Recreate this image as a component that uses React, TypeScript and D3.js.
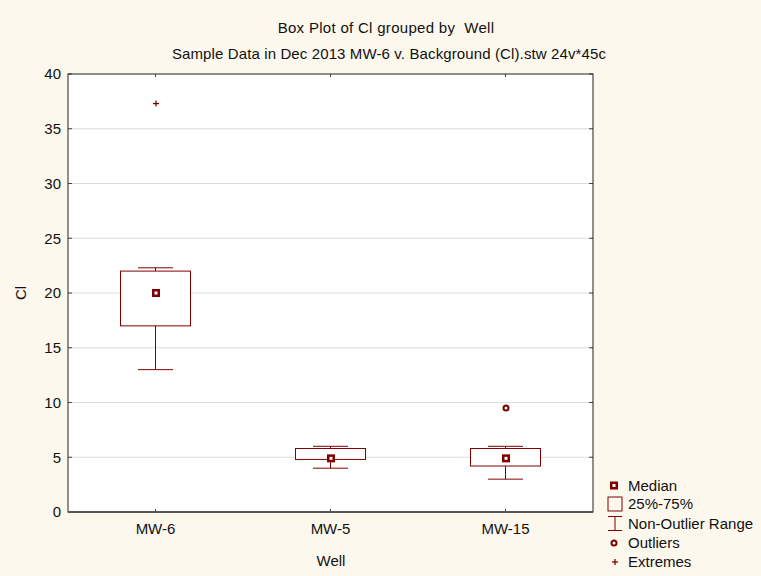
import React from "react";
import * as d3 from "d3";

const wells = ["MW-6", "MW-5", "MW-15"];
const medians = [20.0, 4.9, 4.9];
const q1 = [17.0, 4.8, 4.2];
const q3 = [22.0, 5.8, 5.8];
const whiskerLow = [13.0, 4.0, 3.0];
const whiskerHigh = [22.3, 6.0, 6.0];
const outliers: number[][] = [[], [], [9.5]];
const extremes: number[][] = [[37.3], [], []];
const yTicks = [0, 5, 10, 15, 20, 25, 30, 35, 40];
const legendLabels = ["Median", "25%-75%", "Non-Outlier Range", "Outliers", "Extremes"];

const W = 761;
const H = 576;
const plot = { left: 68, right: 593, top: 74, bottom: 512 };
const RED = "#800000";
const FONT = "'Liberation Sans', Arial, sans-serif";

export default function App() {
  const x = d3.scaleBand<string>().domain(wells).range([plot.left, plot.right]);
  const y = d3.scaleLinear().domain([0, 40]).range([plot.bottom, plot.top]);
  const bw = x.bandwidth();
  const boxW = bw * 0.4;
  const capW = bw * 0.2;
  const cx = (w: string) => (x(w) as number) + bw / 2;

  const MedianMark = ({ px, py }: { px: number; py: number }) => (
    <rect x={px - 2.75} y={py - 2.75} width={5.5} height={5.5} fill="#fff" stroke={RED} strokeWidth={2.5} />
  );
  const OutlierMark = ({ px, py }: { px: number; py: number }) => (
    <circle cx={px} cy={py} r={2.5} fill="#fff" stroke={RED} strokeWidth={2} />
  );
  const ExtremeMark = ({ px, py }: { px: number; py: number }) => (
    <g stroke={RED} strokeWidth={1.3}>
      <line x1={px - 3} x2={px + 3} y1={py} y2={py} />
      <line x1={px} x2={px} y1={py - 3} y2={py + 3} />
    </g>
  );

  const legendY = [485.5, 504, 523.5, 543, 562];
  const lx = 615;

  return (
    <svg width={W} height={H} style={{ position: "absolute", left: 0, top: 0 }} fontFamily={FONT}>
      <rect x={0} y={0} width={W} height={H} fill="#FDF8ED" />
      <text x={386} y={32.5} textAnchor="middle" fontSize={15} fill="#111" style={{ whiteSpace: "pre" }} letterSpacing={0.3}>
        {"Box Plot of Cl grouped by  Well"}
      </text>
      <text x={389} y={59} textAnchor="middle" fontSize={15} fill="#111" letterSpacing={0.12}>
        Sample Data in Dec 2013 MW-6 v. Background (Cl).stw 24v*45c
      </text>

      <rect x={plot.left} y={plot.top} width={plot.right - plot.left} height={plot.bottom - plot.top} fill="#fff" />
      {yTicks.slice(1, -1).map((t) => (
        <line key={"g" + t} x1={plot.left} x2={plot.right} y1={y(t)} y2={y(t)} stroke="#dcdcdc" strokeWidth={1} />
      ))}

      {/* ticks */}
      {yTicks.map((t) => (
        <g key={"t" + t} stroke="#444" strokeWidth={1}>
          <line x1={plot.left} x2={plot.left + 4} y1={y(t)} y2={y(t)} />
          <line x1={plot.right - 4} x2={plot.right} y1={y(t)} y2={y(t)} />
        </g>
      ))}
      {wells.map((w) => (
        <g key={"xt" + w} stroke="#444" strokeWidth={1}>
          <line x1={cx(w)} x2={cx(w)} y1={plot.top} y2={plot.top + 3} />
          <line x1={cx(w)} x2={cx(w)} y1={plot.bottom - 3} y2={plot.bottom} />
        </g>
      ))}

      {/* boxes */}
      {wells.map((w, i) => {
        const c = cx(w);
        return (
          <g key={"b" + w} stroke={RED} strokeWidth={1} fill="none">
            <line x1={c} x2={c} y1={y(whiskerHigh[i])} y2={y(q3[i])} />
            <line x1={c} x2={c} y1={y(q1[i])} y2={y(whiskerLow[i])} />
            <line x1={c - capW / 2} x2={c + capW / 2} y1={y(whiskerHigh[i])} y2={y(whiskerHigh[i])} />
            <line x1={c - capW / 2} x2={c + capW / 2} y1={y(whiskerLow[i])} y2={y(whiskerLow[i])} />
            <rect x={c - boxW / 2} y={y(q3[i])} width={boxW} height={y(q1[i]) - y(q3[i])} fill="#fff" />
          </g>
        );
      })}
      {wells.map((w, i) => (
        <g key={"m" + w}>
          <MedianMark px={cx(w) + 0.5} py={y(medians[i])} />
          {outliers[i].map((v, j) => (
            <OutlierMark key={j} px={cx(w) + 0.5} py={y(v)} />
          ))}
          {extremes[i].map((v, j) => (
            <ExtremeMark key={j} px={cx(w) + 0.5} py={y(v)} />
          ))}
        </g>
      ))}

      {/* frame */}
      <rect x={plot.left} y={plot.top} width={plot.right - plot.left} height={plot.bottom - plot.top} fill="none" stroke="#222" strokeWidth={1} />
      <line x1={plot.left} x2={plot.right} y1={plot.bottom} y2={plot.bottom} stroke="#555" strokeWidth={2} />

      {/* y labels */}
      {yTicks.map((t) => (
        <text key={"yl" + t} x={61} y={y(t)} dy="0.36em" textAnchor="end" fontSize={15} fill="#111">
          {t}
        </text>
      ))}
      <text transform={`translate(26,${y(20)}) rotate(-90)`} textAnchor="middle" fontSize={15} fill="#111">
        Cl
      </text>
      {wells.map((w) => (
        <text key={"xl" + w} x={cx(w)} y={534} textAnchor="middle" fontSize={15} fill="#111">
          {w}
        </text>
      ))}
      <text x={331} y={566} textAnchor="middle" fontSize={15} fill="#111">
        Well
      </text>

      {/* legend */}
      <MedianMark px={lx - 1} py={legendY[0]} />
      <rect x={lx - 7} y={legendY[1] - 7} width={14} height={14} fill="none" stroke={RED} strokeWidth={1} />
      <g stroke={RED} strokeWidth={1}>
        <line x1={lx - 7} x2={lx + 7} y1={legendY[2] - 7} y2={legendY[2] - 7} />
        <line x1={lx - 7} x2={lx + 7} y1={legendY[2] + 7} y2={legendY[2] + 7} />
        <line x1={lx} x2={lx} y1={legendY[2] - 7} y2={legendY[2] + 7} />
      </g>
      <OutlierMark px={lx - 1} py={legendY[3]} />
      <ExtremeMark px={lx} py={legendY[4]} />
      {legendLabels.map((l, i) => (
        <text key={l} x={628} y={legendY[i]} dy="0.36em" fontSize={15} fill="#111">
          {l}
        </text>
      ))}
    </svg>
  );
}
